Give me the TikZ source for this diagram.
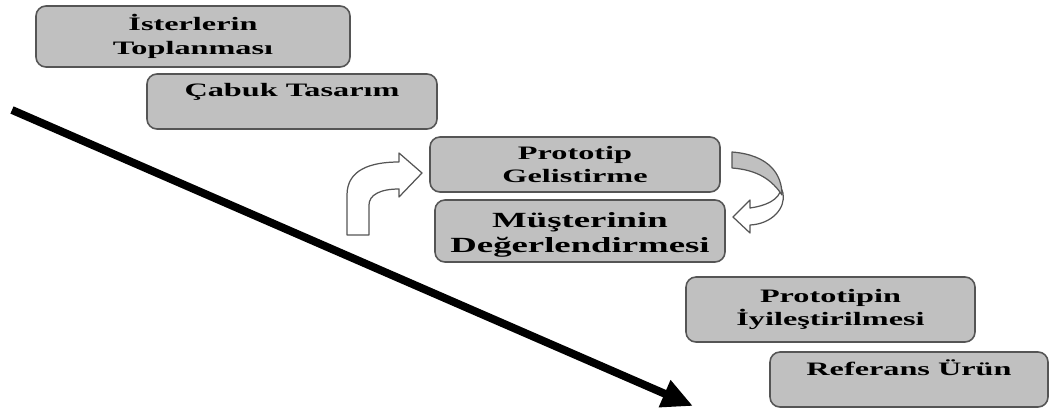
\documentclass[tikz,border=0pt]{standalone}
\usepackage{fontspec}
\usepackage{tikz}
\usepackage[dvipsnames]{xcolor}
\usetikzlibrary{arrows.meta}

\setmainfont{Liberation Serif}
\newfontfamily\stagefont[FakeStretch=1.7]{Liberation Serif}

\definecolor{stagegray}{RGB}{192,192,192}
\definecolor{stageline}{RGB}{85,85,85}

\tikzset{
    stage/.style={draw=stageline, fill=stagegray, line width=0.9pt,
        rounded corners=0.2cm, align=center, inner sep=0pt,
        minimum width=5.8cm, minimum height=1.1cm,
        font=\stagefont\bfseries\fontsize{10.8}{13.3}\selectfont},
    turn/.style={draw=stageline, line width=0.7pt, line join=round},
}

\begin{document}
\begin{tikzpicture}
        \useasboundingbox (0,0) rectangle (20.98,8.16);

        % the steps, one under the other
        \node[stage, minimum width=6.28cm, minimum height=1.22cm] (req) at (3.86,7.43) {İsterlerin\\Toplanması};
        \node[stage] (quick) at (5.84,6.13) {Çabuk Tasarım\\~};
        \node[stage] (build) at (11.5,4.87) {Prototip\\Gelistirme};
        \node[stage, minimum height=1.24cm,
            font=\stagefont\bfseries\fontsize{12.3}{13.8}\selectfont] (eval) at (11.6,3.54) {\rule{0pt}{1.05em}Müşterinin\\Değerlendirmesi};
        \node[stage, minimum width=5.78cm, minimum height=1.3cm] (refine) at (16.61,1.97) {Prototipin\\İyileştirilmesi};
        \node[stage, minimum width=5.56cm] (product) at (18.18,0.57) {Referans Ürün\\~};

        % long arrow down the stairs
        \coordinate (start) at (0.24,5.96);
        \coordinate (end) at (13.86,0.04);
        \draw[black, line width=4.5pt, -{Triangle[length=0.62cm,width=0.55cm]}] (start) -- (end);

        % bent arrow into the prototype step
        \draw[turn, fill=white] (6.94,3.46) -- (6.94,4.26)
            .. controls (6.94,4.76) and (7.4,4.92) .. (7.98,4.92)
            -- (7.98,5.10) -- (8.44,4.70) -- (7.98,4.22) -- (7.98,4.38)
            .. controls (7.6,4.38) and (7.38,4.26) .. (7.38,4.06)
            -- (7.38,3.46) -- cycle;

        % loop back from the prototype to the customer
        \draw[turn, fill=white] (15.62,4.40)
            .. controls (15.6,4.16) and (15.3,4.04) .. (15.0,4.0)
            -- (15.0,4.16) -- (14.66,3.82) -- (15.0,3.50) -- (15.0,3.66)
            .. controls (15.44,3.68) and (15.72,4.0) .. (15.66,4.30) -- cycle;
        \draw[turn, fill=stagegray] (14.64,5.12)
            .. controls (15.40,5.06) and (15.64,4.66) .. (15.64,4.26)
            .. controls (15.44,4.56) and (15.16,4.76) .. (14.64,4.80) -- cycle;
    \end{tikzpicture}
\end{document}
